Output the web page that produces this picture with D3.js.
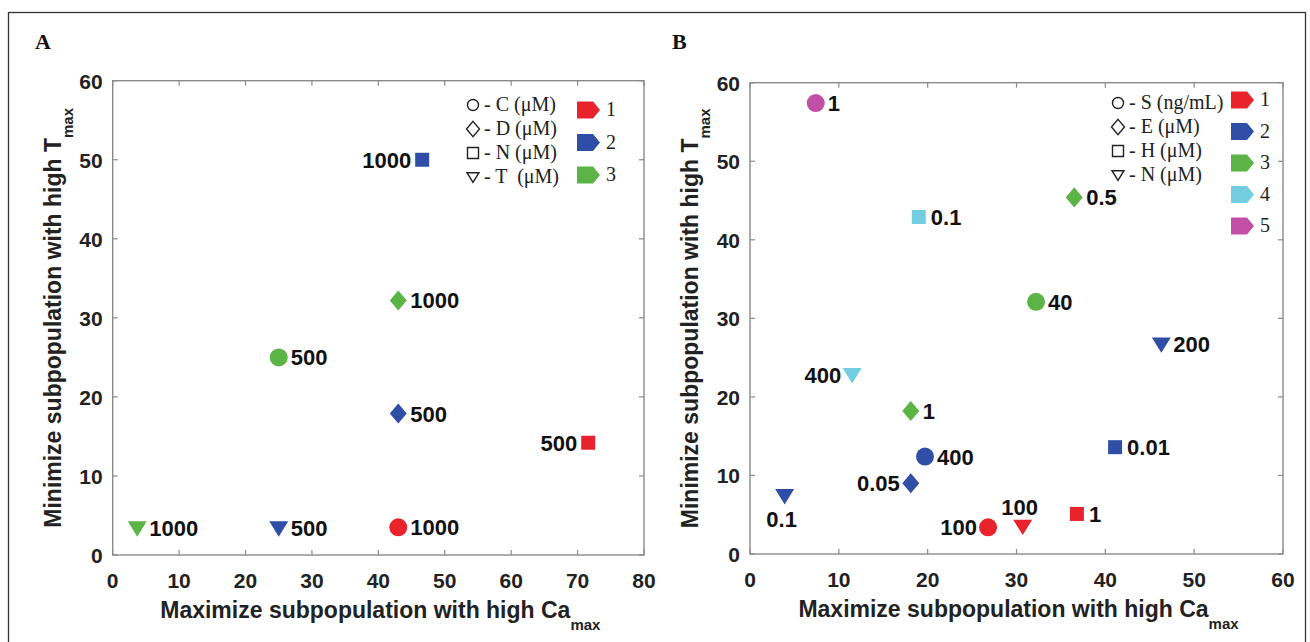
<!DOCTYPE html>
<html>
<head>
<meta charset="utf-8">
<script src="https://cdn.jsdelivr.net/npm/d3@7"></script>
<style>
  html, body { margin: 0; padding: 0; background: #fff; }
  svg { display: block; }
</style>
</head>
<body>
<svg id="fig" width="1310" height="642"></svg>
<script>
// ---- Panel A data ----
const aCa     = [3.7, 25, 43, 25, 43, 43, 46.6, 71.6];
const aT      = [3.4, 3.4, 3.5, 25, 17.9, 32.2, 50, 14.2];
const aShape  = ["tri", "tri", "circle", "circle", "diamond", "diamond", "square", "square"];
const aGroup  = [3, 2, 1, 3, 2, 3, 2, 1];
const aLabel  = ["1000", "500", "1000", "500", "500", "1000", "1000", "500"];
const aLegendShapes = ["circle", "diamond", "square", "tri"];
const aLegendText   = ["- C (μM)", "- D (μM)", "- N (μM)", "- T  (μM)"];
const aLegendGroups = ["1", "2", "3"];
const aXTicks = [0, 10, 20, 30, 40, 50, 60, 70, 80];
const aYTicks = [0, 10, 20, 30, 40, 50, 60];

// ---- Panel B data ----
const bCa     = [7.4, 19.0, 36.5, 32.2, 46.3, 11.5, 18.1, 19.7, 41.1, 18.1, 3.9, 26.8, 30.7, 36.8];
const bT      = [57.4, 42.9, 45.4, 32.1, 26.7, 22.8, 18.2, 12.4, 13.6, 9.0, 7.4, 3.4, 3.5, 5.1];
const bShape  = ["circle", "square", "diamond", "circle", "tri", "tri", "diamond", "circle", "square", "diamond", "tri", "circle", "tri", "square"];
const bGroup  = [5, 4, 3, 3, 2, 4, 3, 2, 2, 2, 2, 1, 1, 1];
const bLabel  = ["1", "0.1", "0.5", "40", "200", "400", "1", "400", "0.01", "0.05", "0.1", "100", "100", "1"];
const bLegendShapes = ["circle", "diamond", "square", "tri"];
const bLegendText   = ["- S (ng/mL)", "- E (μM)", "- H (μM)", "- N (μM)"];
const bLegendGroups = ["1", "2", "3", "4", "5"];
const bXTicks = [0, 10, 20, 30, 40, 50, 60];
const bYTicks = [0, 10, 20, 30, 40, 50, 60];

// label placement relative to each marker
const aLabelSide = ["right", "right", "right", "right", "right", "right", "left", "left"];
const bLabelSide = ["right", "right", "right", "right", "right", "left", "right", "right", "right", "left", "below", "left", "above", "right"];

const groupColor = {1: "#e8232b", 2: "#2f4fa6", 3: "#5db446", 4: "#72cde0", 5: "#c24ea6"};

const svg = d3.select("#fig");

// outer frame
svg.append("rect").attr("x", 8.5).attr("y", 12.5).attr("width", 1297).attr("height", 640)
  .attr("fill", "none").attr("stroke", "#333").attr("stroke-width", 1.3);

// marker path relative to its centre (w = half width)
function markerPath(shape, w) {
  if (shape === "circle") return d3.symbol(d3.symbolCircle, Math.PI * w * w)();
  if (shape === "square") return `M${-w},${-w}H${w}V${w}H${-w}Z`;
  if (shape === "diamond") return `M0,${-w * 1.18}L${w},0L0,${w * 1.18}L${-w},0Z`;
  if (shape === "tri") return `M${-w},${-w * 0.72}H${w}L0,${w * 0.9}Z`;
}
const markerSize = {circle: 9, square: 7, diamond: 8.5, tri: 9.5};
const legendSize = {circle: 5.5, square: 5.5, diamond: 6.5, tri: 6};

function drawPanel(cfg) {
  const g = svg.append("g");
  const x = d3.scaleLinear().domain(cfg.xDomain).range([cfg.left, cfg.right]);
  const y = d3.scaleLinear().domain([0, 60]).range([cfg.bottom, cfg.top]);

  // panel letter
  g.append("text").attr("x", cfg.letterX).attr("y", 49)
    .attr("font-family", "Liberation Serif, serif").attr("font-weight", "bold")
    .attr("font-size", 22).attr("fill", "#111").text(cfg.letter);

  // box
  g.append("rect").attr("x", cfg.left).attr("y", cfg.top)
    .attr("width", cfg.right - cfg.left).attr("height", cfg.bottom - cfg.top)
    .attr("fill", "none").attr("stroke", "#8a8a8a").attr("stroke-width", 1.4);

  // inward ticks on all four sides
  const tickLen = 5;
  cfg.xTicks.forEach(t => {
    g.append("line").attr("x1", x(t)).attr("x2", x(t)).attr("y1", cfg.bottom).attr("y2", cfg.bottom - tickLen)
      .attr("stroke", "#8a8a8a").attr("stroke-width", 1.2);
    g.append("line").attr("x1", x(t)).attr("x2", x(t)).attr("y1", cfg.top).attr("y2", cfg.top + tickLen)
      .attr("stroke", "#8a8a8a").attr("stroke-width", 1.2);
  });
  cfg.yTicks.forEach(t => {
    g.append("line").attr("x1", cfg.left).attr("x2", cfg.left + tickLen).attr("y1", y(t)).attr("y2", y(t))
      .attr("stroke", "#8a8a8a").attr("stroke-width", 1.2);
    g.append("line").attr("x1", cfg.right).attr("x2", cfg.right - tickLen).attr("y1", y(t)).attr("y2", y(t))
      .attr("stroke", "#8a8a8a").attr("stroke-width", 1.2);
  });

  const sans = "Liberation Sans, Arial, sans-serif";
  g.selectAll(".xt").data(cfg.xTicks).join("text")
    .attr("x", d => x(d)).attr("y", cfg.bottom + 33)
    .attr("text-anchor", "middle").attr("font-family", sans)
    .attr("font-weight", "bold").attr("font-size", 21).attr("fill", "#222")
    .text(d => d);
  g.selectAll(".yt").data(cfg.yTicks).join("text")
    .attr("x", cfg.left - 10).attr("y", d => y(d) + 8)
    .attr("text-anchor", "end").attr("font-family", sans)
    .attr("font-weight", "bold").attr("font-size", 21).attr("fill", "#222")
    .text(d => d);

  // axis titles
  const xt = g.append("text").attr("x", (cfg.left + cfg.right) / 2 + 2).attr("y", cfg.bottom + 63)
    .attr("text-anchor", "middle").attr("font-family", sans)
    .attr("font-weight", "bold").attr("font-size", 23).attr("fill", "#222");
  xt.append("tspan").text("Maximize subpopulation with high Ca");
  xt.append("tspan").attr("dy", 12).attr("font-size", 15).text("max");

  const yt = g.append("text")
    .attr("transform", `translate(${cfg.left - 52},${(cfg.top + cfg.bottom) / 2}) rotate(-90)`)
    .attr("text-anchor", "middle").attr("font-family", sans)
    .attr("font-weight", "bold").attr("font-size", 23).attr("fill", "#222");
  yt.append("tspan").text("Minimize subpopulation with high T");
  yt.append("tspan").attr("dy", 12).attr("font-size", 15).text("max");

  // markers and value labels
  const pts = cfg.xs.map((v, i) => ({x: v, y: cfg.ys[i], shape: cfg.shapes[i], group: cfg.groups[i], label: cfg.labels[i], side: cfg.sides[i]}));
  g.selectAll(".pt").data(pts).join("path")
    .attr("transform", d => `translate(${x(d.x)},${y(d.y)})`)
    .attr("d", d => markerPath(d.shape, markerSize[d.shape]))
    .attr("fill", d => groupColor[d.group]);

  g.selectAll(".lbl").data(pts).join("text")
    .attr("x", d => d.side === "right" ? x(d.x) + 12 : d.side === "left" ? x(d.x) - 11 : x(d.x) - 3)
    .attr("y", d => d.side === "below" ? y(d.y) + 31 : d.side === "above" ? y(d.y) - 12 : y(d.y) + 8)
    .attr("text-anchor", d => d.side === "right" ? "start" : d.side === "left" ? "end" : "middle")
    .attr("font-family", sans).attr("font-weight", "bold")
    .attr("font-size", 22).attr("fill", "#111")
    .text(d => d.label);

  // legend: marker shapes (outlined) with their meaning
  const serif = "Liberation Serif, Times New Roman, serif";
  cfg.legendShapes.forEach((s, i) => {
    const cy = cfg.legY + i * cfg.legStep;
    g.append("path").attr("transform", `translate(${cfg.legX},${cy})`)
      .attr("d", markerPath(s, legendSize[s]))
      .attr("fill", "none").attr("stroke", "#222").attr("stroke-width", 1.4);
    g.append("text").attr("x", cfg.legX + 11).attr("y", cy + 6)
      .attr("font-family", serif).attr("font-size", 20).attr("fill", "#222")
      .attr("xml:space", "preserve")
      .text(cfg.legendText[i]);
  });

  // legend: colour flags with group numbers
  cfg.legendGroups.forEach((lab, i) => {
    const cy = cfg.flagY + i * cfg.flagStep;
    const fx = cfg.flagX, w = 23, h = 17;
    g.append("path")
      .attr("d", `M${fx},${cy - h / 2}H${fx + w - 7}L${fx + w},${cy}L${fx + w - 7},${cy + h / 2}H${fx}Z`)
      .attr("fill", groupColor[+lab]);
    g.append("text").attr("x", fx + w + 6).attr("y", cy + 6)
      .attr("font-family", serif).attr("font-size", 20).attr("fill", "#222").text(lab);
  });
}

drawPanel({
  letter: "A", letterX: 35,
  left: 112.7, right: 644, top: 80.7, bottom: 555,
  xDomain: [0, 80], xTicks: aXTicks, yTicks: aYTicks,
  xs: aCa, ys: aT, shapes: aShape, groups: aGroup, labels: aLabel, sides: aLabelSide,
  legendShapes: aLegendShapes, legendText: aLegendText, legendGroups: aLegendGroups,
  legX: 473, legY: 105, legStep: 24,
  flagX: 577, flagY: 110, flagStep: 32.5
});

drawPanel({
  letter: "B", letterX: 672,
  left: 750, right: 1283, top: 82.7, bottom: 554,
  xDomain: [0, 60], xTicks: bXTicks, yTicks: bYTicks,
  xs: bCa, ys: bT, shapes: bShape, groups: bGroup, labels: bLabel, sides: bLabelSide,
  legendShapes: bLegendShapes, legendText: bLegendText, legendGroups: bLegendGroups,
  legX: 1118, legY: 103, legStep: 24,
  flagX: 1231, flagY: 100, flagStep: 31.5
});
</script>
</body>
</html>
